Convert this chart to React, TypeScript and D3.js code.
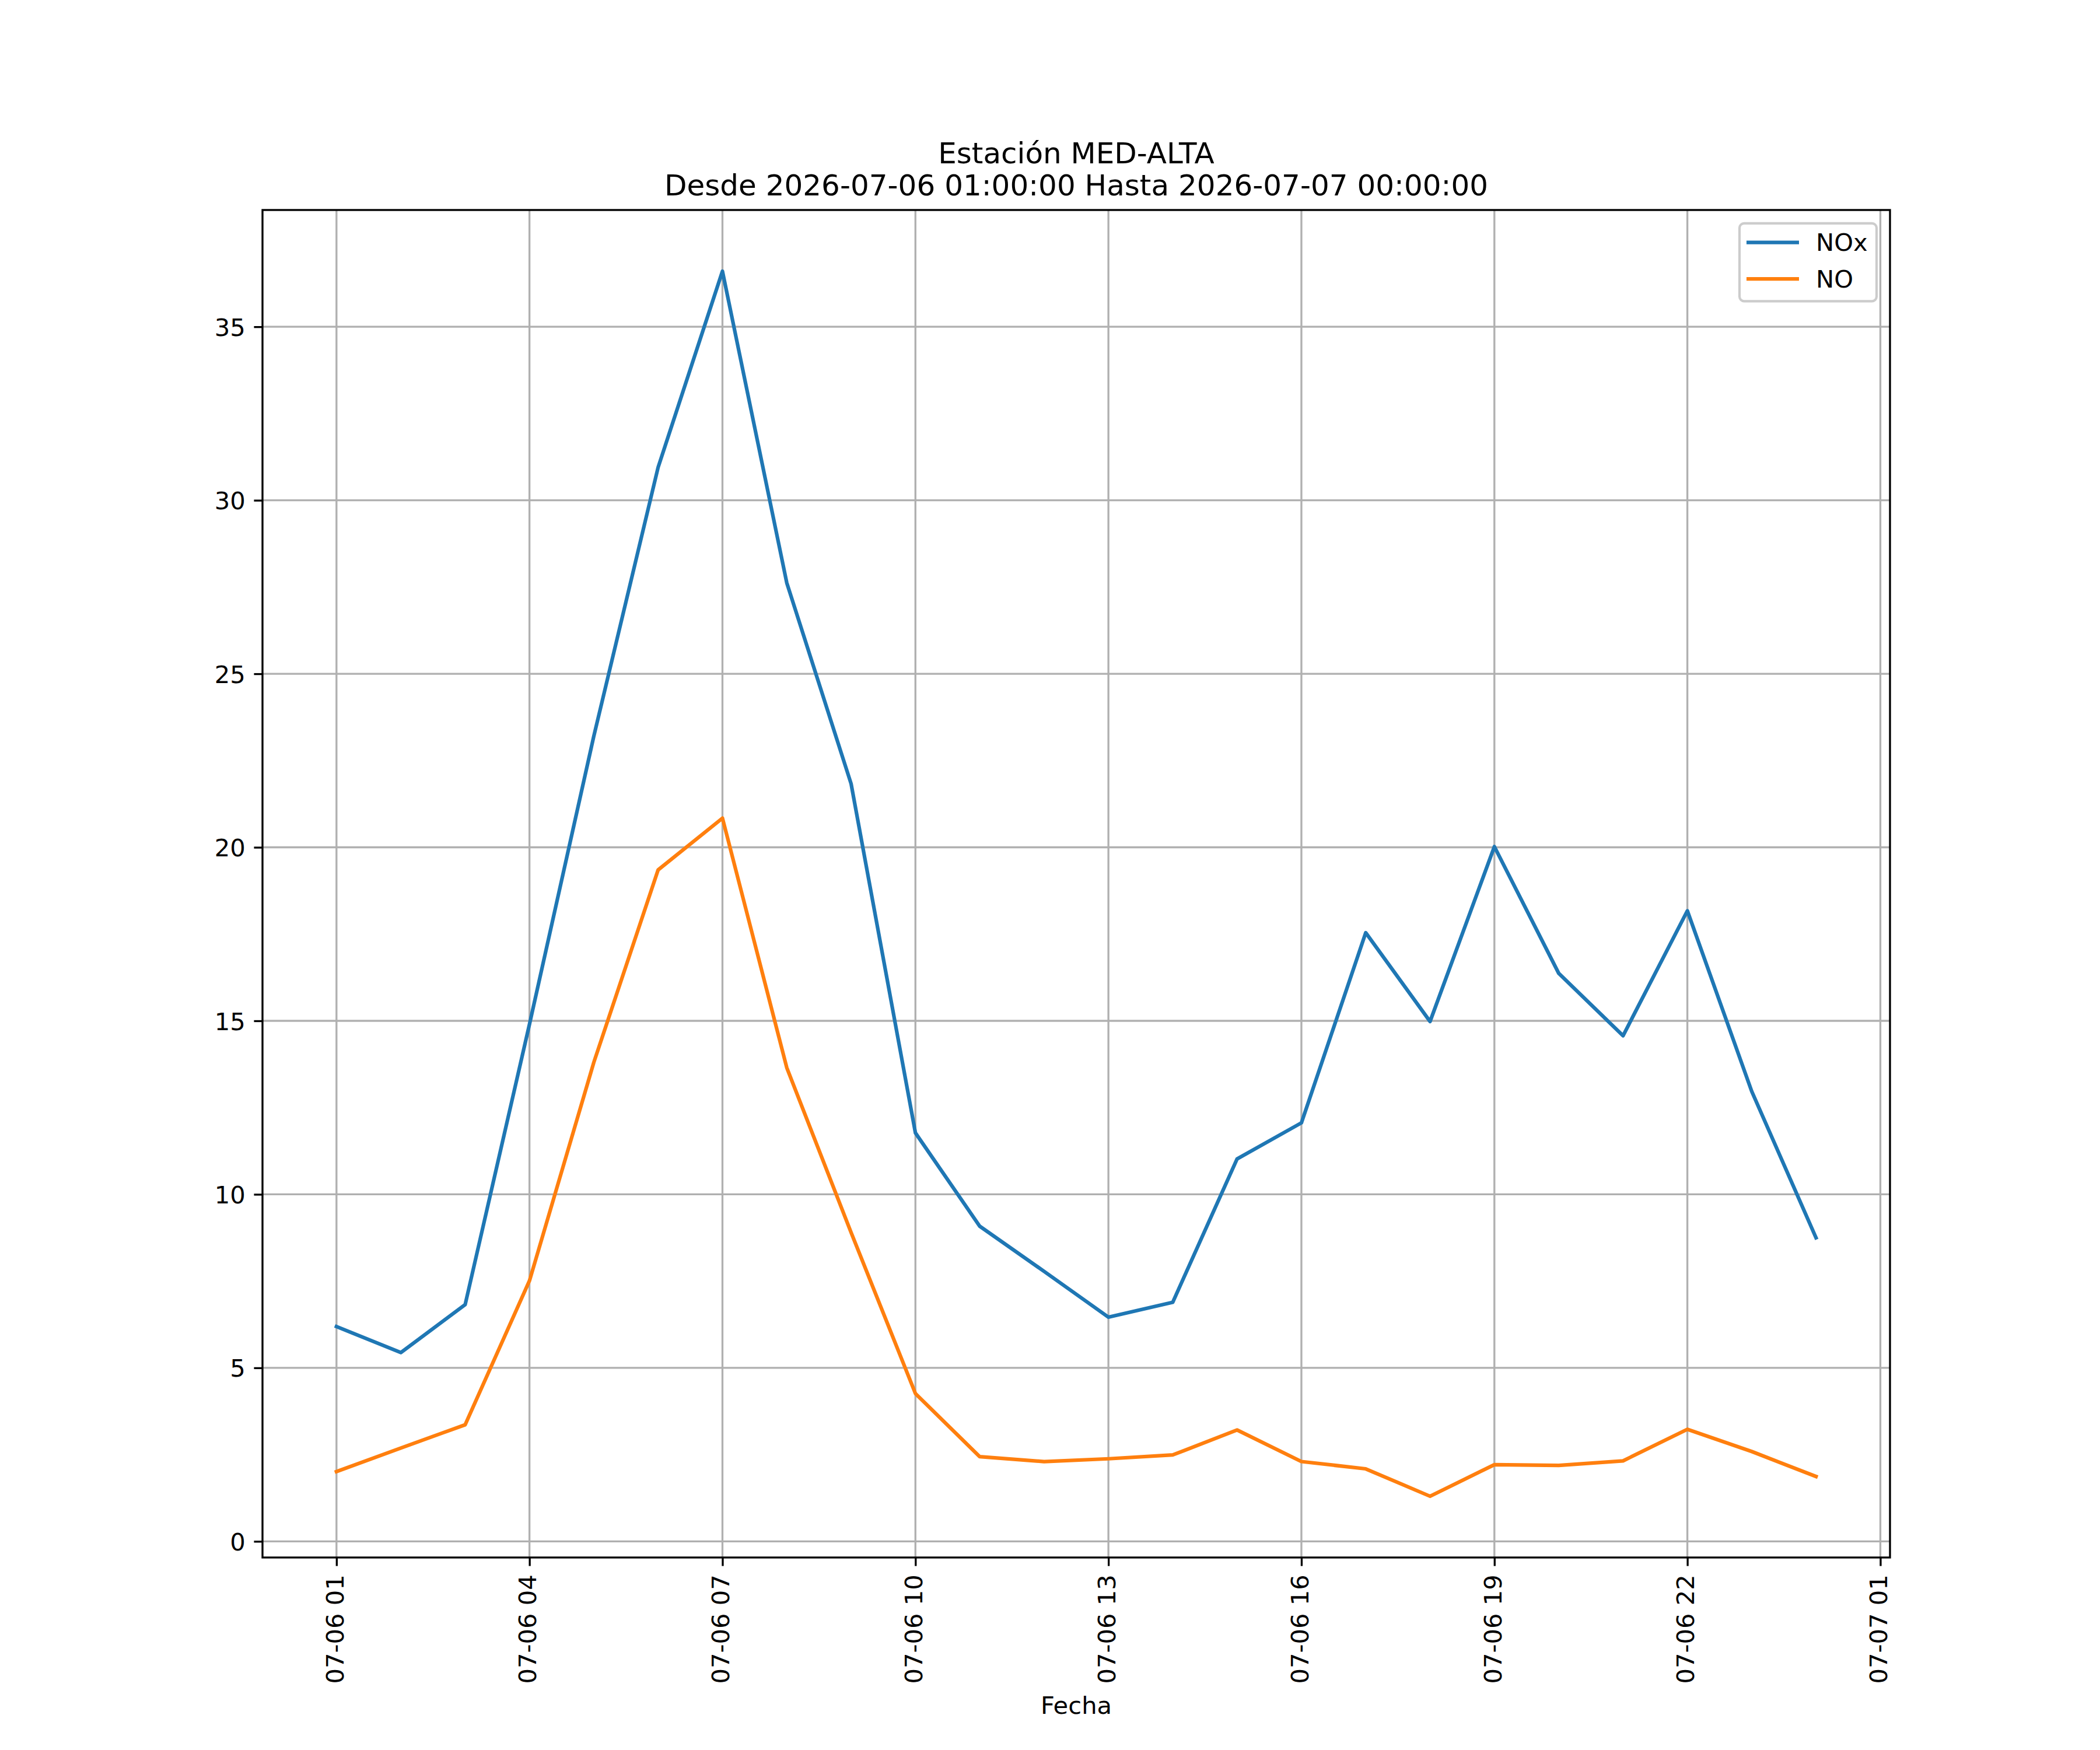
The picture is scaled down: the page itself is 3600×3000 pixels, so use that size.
import React, { useEffect, useRef } from "react";
import {
  axisBottom,
  axisLeft,
  line,
  max,
  min,
  scaleLinear,
  scaleTime,
  select,
  timeFormat,
  timeHour,
  timeParse,
} from "d3";

// hourly readings, station MED-ALTA
const fechas = [
  "2026-07-06T01:00", "2026-07-06T02:00", "2026-07-06T03:00", "2026-07-06T04:00",
  "2026-07-06T05:00", "2026-07-06T06:00", "2026-07-06T07:00", "2026-07-06T08:00",
  "2026-07-06T09:00", "2026-07-06T10:00", "2026-07-06T11:00", "2026-07-06T12:00",
  "2026-07-06T13:00", "2026-07-06T14:00", "2026-07-06T15:00", "2026-07-06T16:00",
  "2026-07-06T17:00", "2026-07-06T18:00", "2026-07-06T19:00", "2026-07-06T20:00",
  "2026-07-06T21:00", "2026-07-06T22:00", "2026-07-06T23:00", "2026-07-07T00:00",
];

const nox = [
  6.19, 5.44, 6.82, 14.9, 23.2, 30.95, 36.6, 27.62, 21.83, 11.77, 9.08, 7.78,
  6.46, 6.89, 11.02, 12.06, 17.54, 14.98, 20.02, 16.37, 14.57, 18.17, 12.97, 8.75,
];

const no = [
  2.01, 2.69, 3.36, 7.51, 13.8, 19.35, 20.84, 13.65, 8.9, 4.26, 2.44, 2.3,
  2.38, 2.49, 3.21, 2.3, 2.09, 1.3, 2.21, 2.19, 2.32, 3.23, 2.59, 1.87,
];

const series = [
  { name: "NOx", values: nox, color: "#1f77b4" },
  { name: "NO", values: no, color: "#ff7f0e" },
];

const yTicks = [0, 5, 10, 15, 20, 25, 30, 35];

const titulo = "Estación MED-ALTA";
const subtitulo = "Desde 2026-07-06 01:00:00 Hasta 2026-07-07 00:00:00";
const xLabel = "Fecha";

const width = 3600;
const height = 3000;
const margin = { left: 450, right: 3240, top: 360, bottom: 2670 };
const font = "'DejaVu Sans', sans-serif";
const fs = 41.67;
const tickLen = 14.58;
const thin = 3.33;

export default function App() {
  const svgRef = useRef<SVGSVGElement | null>(null);

  useEffect(() => {
    const parse = timeParse("%Y-%m-%dT%H:%M");
    const dates = fechas.map((f) => parse(f) as Date);

    const svg = select(svgRef.current);
    svg.selectAll("*").remove();
    svg.append("rect").attr("width", width).attr("height", height).attr("fill", "white");

    // matplotlib style 5% margins
    const t0 = dates[0].getTime();
    const t1 = dates[dates.length - 1].getTime();
    const tPad = (t1 - t0) * 0.05;
    const x = scaleTime()
      .domain([new Date(t0 - tPad), new Date(t1 + tPad)])
      .range([margin.left, margin.right]);

    const all = nox.concat(no);
    const lo = min(all) as number;
    const hi = max(all) as number;
    const yPad = (hi - lo) * 0.05;
    const y = scaleLinear()
      .domain([lo - yPad, hi + yPad])
      .range([margin.bottom, margin.top]);

    const xTicks = timeHour.range(dates[0], new Date(t1 + 2 * 3600e3), 3);

    // grid
    const grid = svg.append("g").attr("stroke", "#b0b0b0").attr("stroke-width", thin);
    grid
      .selectAll("line.v")
      .data(xTicks)
      .join("line")
      .attr("x1", (d) => x(d))
      .attr("x2", (d) => x(d))
      .attr("y1", margin.top)
      .attr("y2", margin.bottom);
    grid
      .selectAll("line.h")
      .data(yTicks)
      .join("line")
      .attr("class", "h")
      .attr("x1", margin.left)
      .attr("x2", margin.right)
      .attr("y1", (d) => y(d))
      .attr("y2", (d) => y(d));

    // lines
    const lineFn = line<number>()
      .x((_, i) => x(dates[i]))
      .y((d) => y(d));

    series.forEach((s) => {
      svg
        .append("path")
        .datum(s.values)
        .attr("fill", "none")
        .attr("stroke", s.color)
        .attr("stroke-width", 6.25)
        .attr("stroke-linejoin", "round")
        .attr("stroke-linecap", "square")
        .attr("d", lineFn);
    });

    // spines
    svg
      .append("rect")
      .attr("x", margin.left)
      .attr("y", margin.top)
      .attr("width", margin.right - margin.left)
      .attr("height", margin.bottom - margin.top)
      .attr("fill", "none")
      .attr("stroke", "black")
      .attr("stroke-width", thin);

    // axes
    const xAxis = axisBottom(x)
      .tickValues(xTicks)
      .tickFormat((d) => timeFormat("%m-%d %H")(d as Date))
      .tickSize(tickLen)
      .tickPadding(tickLen);
    const gx = svg
      .append("g")
      .attr("transform", `translate(0, ${margin.bottom})`)
      .call(xAxis);
    gx.select(".domain").remove();
    gx.selectAll(".tick line").attr("stroke", "black").attr("stroke-width", thin);
    gx.selectAll(".tick text")
      .attr("font-family", font)
      .attr("font-size", fs)
      .attr("fill", "black")
      .attr("text-anchor", "end")
      .attr("x", 0)
      .attr("y", 0)
      .attr("dy", "0.27em")
      .attr("transform", `translate(0, ${tickLen * 2}) rotate(-90)`);

    const yAxis = axisLeft(y)
      .tickValues(yTicks)
      .tickFormat((d) => String(d))
      .tickSize(tickLen)
      .tickPadding(tickLen);
    const gy = svg
      .append("g")
      .attr("transform", `translate(${margin.left}, 0)`)
      .call(yAxis);
    gy.select(".domain").remove();
    gy.selectAll(".tick line").attr("stroke", "black").attr("stroke-width", thin);
    gy.selectAll(".tick text")
      .attr("font-family", font)
      .attr("font-size", fs)
      .attr("fill", "black")
      .attr("dy", "0.36em");

    // titles
    const cx = (margin.left + margin.right) / 2;
    svg
      .append("text")
      .attr("x", cx)
      .attr("y", 280)
      .attr("text-anchor", "middle")
      .attr("font-family", font)
      .attr("font-size", 50)
      .text(titulo);
    svg
      .append("text")
      .attr("x", cx)
      .attr("y", 335)
      .attr("text-anchor", "middle")
      .attr("font-family", font)
      .attr("font-size", 50)
      .text(subtitulo);
    svg
      .append("text")
      .attr("x", cx)
      .attr("y", 2938)
      .attr("text-anchor", "middle")
      .attr("font-family", font)
      .attr("font-size", fs)
      .text(xLabel);

    // legend
    const lg = svg.append("g");
    lg.append("rect")
      .attr("x", 2982)
      .attr("y", 382.8)
      .attr("width", 235)
      .attr("height", 133.5)
      .attr("rx", 8)
      .attr("fill", "white")
      .attr("fill-opacity", 0.8)
      .attr("stroke", "#cccccc")
      .attr("stroke-width", 4.17);
    series.forEach((s, i) => {
      const ly = 415.7 + i * 62.5;
      lg.append("line")
        .attr("x1", 2994)
        .attr("x2", 3084)
        .attr("y1", ly)
        .attr("y2", ly)
        .attr("stroke", s.color)
        .attr("stroke-width", 6.25);
      lg.append("text")
        .attr("x", 3113)
        .attr("y", ly + 14.5)
        .attr("font-family", font)
        .attr("font-size", fs)
        .text(s.name);
    });
  }, []);

  return (
    <svg
      ref={svgRef}
      width={width}
      height={height}
      style={{ position: "absolute", left: 0, top: 0, display: "block" }}
    ></svg>
  );
}
